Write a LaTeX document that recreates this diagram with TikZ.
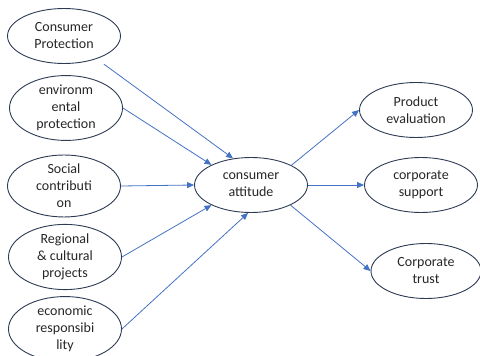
\documentclass[tikz,border=0pt]{standalone}
\usepackage{fontspec}
\setmainfont{Carlito}
\usetikzlibrary{shapes.geometric,arrows.meta}
\definecolor{edgec}{HTML}{2E3B55}
\definecolor{arrc}{HTML}{4472C4}
\begin{document}
\begin{tikzpicture}[x=1pt,y=1pt,
  oval/.style={ellipse,draw=edgec,line width=0.9pt,minimum width=113pt,minimum height=55pt,inner sep=0pt,align=center,
    font=\fontsize{14}{17}\selectfont,text=black!85},
  arr/.style={draw=arrc,line width=0.8pt,-{Triangle[length=7pt,width=6pt]}}]
\useasboundingbox (0,0) rectangle (480,356);
\node[oval] (cp) at (64,320) {Consumer\\Protection};
\node[oval] (ep) at (66,248) {environm\\ental\\protection};
\node[oval] (sc) at (64,170) {Social\\contributi\\on};
\node[oval] (rc) at (65,99) {Regional\\\& cultural\\projects};
\node[oval,minimum height=53pt] (er) at (65,27) {economic\\responsibi\\lity};
\node[oval] (ca) at (251,171) {consumer\\attitude};
\node[oval] (pe) at (416,246) {Product\\evaluation};
\node[oval] (cs) at (421,171) {corporate\\support};
\node[oval,minimum width=110pt] (ct) at (426,85) {Corporate\\trust};
\draw[arr,shorten <=9pt] (cp.-35) -- (ca.124);
\draw[arr] (ep.east) -- (ca.153);
\draw[arr] (sc.east) -- (ca.west);
\draw[arr] (rc.east) -- (ca.207);
\draw[arr] (er.east) -- (ca.-96);
\draw[arr] (ca.26) -- (pe.west);
\draw[arr] (ca.east) -- (cs.west);
\draw[arr] (ca.-27) -- (ct.west);
\end{tikzpicture}
\end{document}
